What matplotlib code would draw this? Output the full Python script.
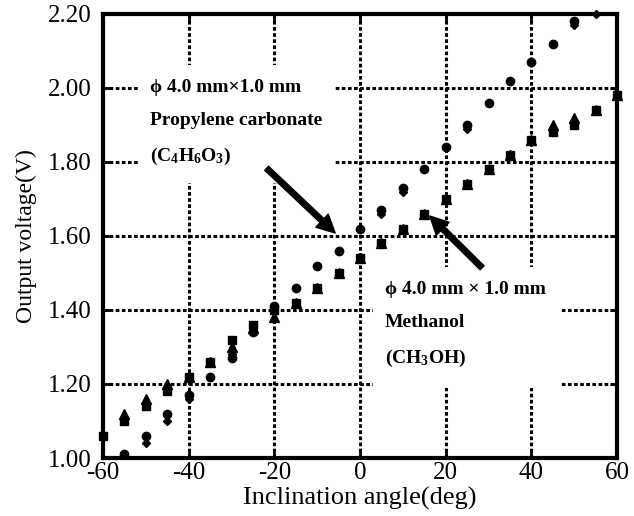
import numpy as np
import matplotlib
matplotlib.use('Agg')
import matplotlib.pyplot as plt
from matplotlib.patches import Rectangle

plt.rcParams['font.family'] = ['Liberation Serif', 'DejaVu Serif']
plt.rcParams['mathtext.fontset'] = 'custom'
plt.rcParams['mathtext.rm'] = 'Liberation Serif:bold'
plt.rcParams['mathtext.bf'] = 'Liberation Serif:bold'
plt.rcParams['mathtext.it'] = 'Liberation Serif:bold'
plt.rcParams['axes.unicode_minus'] = False

nan = np.nan
angle = np.arange(-60, 61, 5)

# propylene carbonate (two runs)
pc_circle = [nan, 1.01, 1.06, 1.12, 1.17, 1.22, 1.27, 1.34, 1.41, 1.46, 1.52, 1.56, 1.62,
             1.67, 1.73, 1.78, 1.84, 1.90, 1.96, 2.02, 2.07, 2.12, 2.18, nan, nan]
pc_diamond = [nan, nan, 1.04, 1.10, 1.16, 1.22, 1.28, 1.34, 1.40, 1.46, 1.52, 1.56, 1.62,
              1.66, 1.72, 1.78, 1.84, 1.89, 1.96, 2.02, 2.07, 2.12, 2.17, 2.20, nan]

# methanol (two runs)
me_square = [1.06, 1.10, 1.14, 1.18, 1.22, 1.26, 1.32, 1.36, 1.40, 1.42, 1.46, 1.50, 1.54,
             1.58, 1.62, 1.66, 1.70, 1.74, 1.78, 1.82, 1.86, 1.88, 1.90, 1.94, 1.98]
me_triangle = [nan, 1.12, 1.16, 1.20, 1.22, 1.26, 1.30, 1.35, 1.38, 1.42, 1.46, 1.50, 1.54,
               1.58, 1.62, 1.66, 1.70, 1.74, 1.78, 1.82, 1.86, 1.90, 1.92, 1.94, 1.98]

x_ticks = [-60, -40, -20, 0, 20, 40, 60]
y_ticks = [1.00, 1.20, 1.40, 1.60, 1.80, 2.00, 2.20]

fig = plt.figure(figsize=(6.34, 5.16), dpi=100)
ax = fig.add_axes([0.1625, 0.1124, 0.8107, 0.8605])

ax.set_xlim(-60, 60)
ax.set_ylim(1.0, 2.2)
ax.set_xticks(x_ticks)
ax.set_yticks(y_ticks)
ax.set_yticklabels(['%.2f' % v for v in y_ticks])
ax.tick_params(direction='in', length=5, width=2, top=True, right=True,
               labelsize=18)
ax.tick_params(axis='x', pad=3)
ax.tick_params(axis='y', pad=8)
for s in ax.spines.values():
    s.set_linewidth(3)

ax.set_axisbelow(True)
ax.grid(True, color='black', linewidth=2.2, linestyle=(0, (1.2, 0.8)))

# white boxes behind the labels (cut the grid)
ax.add_patch(Rectangle((-51.8, 1.743), 46.0, 0.319, facecolor='white',
                       edgecolor='none', zorder=1.5))
ax.add_patch(Rectangle((3.0, 1.19), 43.7, 0.326, facecolor='white',
                       edgecolor='none', zorder=1.5))

ax.plot(angle, me_triangle, '^', color='black', ms=7, clip_on=False, zorder=3)
ax.plot(angle, me_square, 's', color='black', ms=6, clip_on=False, zorder=3)
ax.plot(angle, pc_diamond, 'D', color='black', ms=4.5, clip_on=False, zorder=3)
ax.plot(angle, pc_circle, 'o', color='black', ms=6, clip_on=False, zorder=3)

tf = dict(fontsize=14, fontweight='bold', va='center', ha='left', zorder=4)
ax.text(-49.0, 2.002, '\u03d5 4.0 mm\u00d71.0 mm', **tf)
ax.text(-49.0, 1.912, 'Propylene carbonate', **tf)
ax.text(-49.0, 1.814, '(C$_4$H$_6$O$_3$)', **tf)
ax.text(5.8, 1.456, '\u03d5 4.0 mm \u00d7 1.0 mm', **tf)
ax.text(5.8, 1.366, 'Methanol', **tf)
ax.text(5.8, 1.269, '(CH$_3$OH)', **tf)

arrow = dict(facecolor='black', edgecolor='black', width=4, headwidth=13,
             headlength=13, shrink=0)
ax.annotate('', xy=(-5.8, 1.608), xytext=(-21.8, 1.783), arrowprops=arrow, zorder=4)
ax.annotate('', xy=(16.3, 1.654), xytext=(28.5, 1.514), arrowprops=arrow, zorder=4)

ax.set_xlabel('Inclination angle(deg)', fontsize=19, labelpad=2)
ax.set_ylabel('Output voltage(V)', fontsize=17, labelpad=8)

fig.savefig('out.png', dpi=100)
